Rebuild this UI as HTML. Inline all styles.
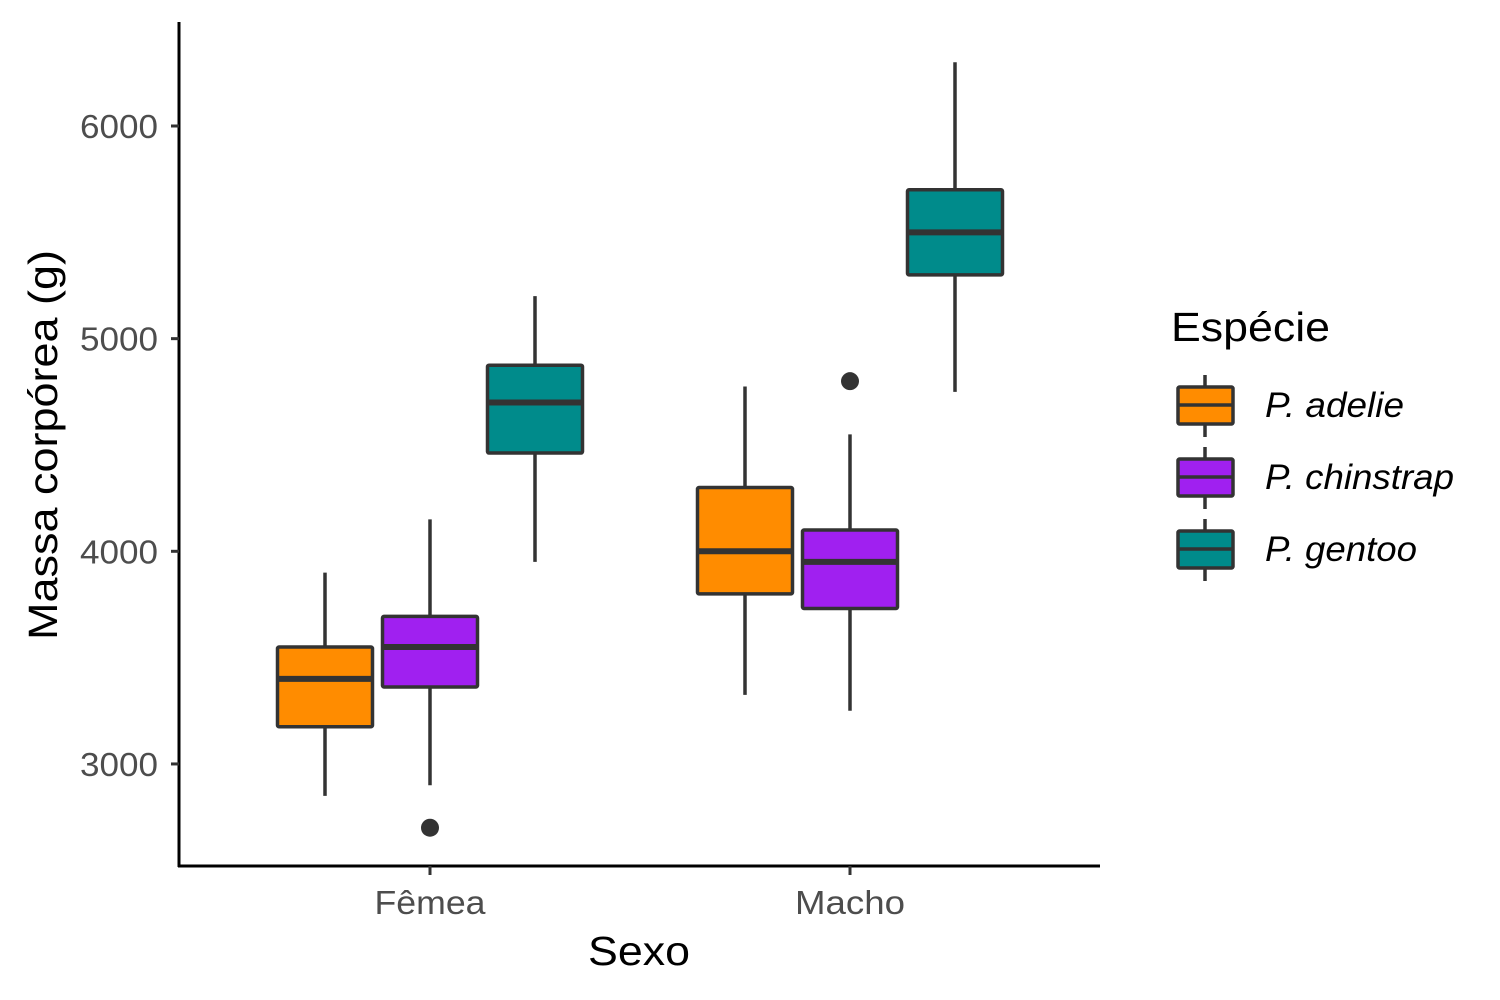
<!DOCTYPE html>
<html><head><meta charset="utf-8">
<style>
html,body{margin:0;padding:0;background:#fff;}
svg{display:block;font-family:"Liberation Sans",Arial,sans-serif;}
</style></head>
<body>
<svg id="chart" width="1500" height="1000" viewBox="0 0 1500 1000">
  <g id="marks"></g>
  <line x1="179" y1="22" x2="179" y2="867" stroke="#000" stroke-width="3"/>
  <line x1="178" y1="866" x2="1100" y2="866" stroke="#000" stroke-width="3"/>
  <g id="yticks"></g>
  <g id="xticks"></g>
  <text x="639" y="965" font-size="41" text-anchor="middle" fill="#000" textLength="102" lengthAdjust="spacingAndGlyphs">Sexo</text>
  <text transform="translate(57,445) rotate(-90)" font-size="41" text-anchor="middle" fill="#000" textLength="390" lengthAdjust="spacingAndGlyphs">Massa corpórea (g)</text>
  <g>
    <text x="1171" y="341" font-size="41" fill="#000" textLength="159" lengthAdjust="spacingAndGlyphs">Espécie</text>
    <g id="legend-items"></g>
  </g>
</svg>
<script>
const groups = ["Fêmea", "Macho"];
const species = ["P. adelie", "P. chinstrap", "P. gentoo"];
const colors = ["#FF8C00", "#A020F0", "#008B8B"];
// per species: [Fêmea, Macho]
const lowWhisker = [[2850, 3325], [2900, 3250], [3950, 4750]];
const q1 = [[3175, 3800], [3362, 3731], [4462, 5300]];
const median = [[3400, 4000], [3550, 3950], [4700, 5500]];
const q3 = [[3550, 4300], [3694, 4100], [4875, 5700]];
const highWhisker = [[3900, 4775], [4150, 4550], [5200, 6300]];
const outlierGroup = [0, 1];
const outlierSpecies = [1, 1];
const outlierValue = [2700, 4800];
const yTicks = [3000, 4000, 5000, 6000];

const NS = "http://www.w3.org/2000/svg";
function y(v){ return 126 + (6000 - v) * 0.21265; }
function xGroup(i){ return 430 + i * 420; }
function xBox(g, s){ return xGroup(g) + (s - 1) * 105; }
const boxW = 95;
function el(tag, attrs, parent){
  const e = document.createElementNS(NS, tag);
  for (const k in attrs) e.setAttribute(k, attrs[k]);
  parent.appendChild(e);
  return e;
}
const marks = document.getElementById("marks");
for (let g = 0; g < groups.length; g++) {
  for (let s = 0; s < species.length; s++) {
    const cx = xBox(g, s);
    const gr = el("g", {}, marks);
    
    
    el("line", {x1: cx, x2: cx, y1: y(highWhisker[s][g]), y2: y(lowWhisker[s][g]), stroke: "#333", "stroke-width": 3.5}, gr);
    el("rect", {x: cx - boxW/2, y: y(q3[s][g]), width: boxW, height: y(q1[s][g]) - y(q3[s][g]), fill: colors[s], stroke: "#333", "stroke-width": 3.5, rx: 1.5}, gr);
    el("line", {x1: cx - boxW/2, x2: cx + boxW/2, y1: y(median[s][g]), y2: y(median[s][g]), stroke: "#333", "stroke-width": 6}, gr);
  }
}
for (let i = 0; i < outlierValue.length; i++) {
  const c = el("circle", {cx: xBox(outlierGroup[i], outlierSpecies[i]), cy: y(outlierValue[i]), r: 9, fill: "#333"}, marks);
  
  
}
const yt = document.getElementById("yticks");
yTicks.forEach(v => {
  el("line", {x1: 171, x2: 179, y1: y(v), y2: y(v), stroke: "#333", "stroke-width": 3}, yt);
  const t = el("text", {x: 158, y: y(v) + 12, "font-size": 33, "text-anchor": "end", fill: "#4d4d4d", textLength: 78, lengthAdjust: "spacingAndGlyphs"}, yt);
  t.textContent = v;
  
  
});
const xt = document.getElementById("xticks");
const xLabelLen = [111, 110];
groups.forEach((gname, i) => {
  el("line", {x1: xGroup(i), x2: xGroup(i), y1: 866, y2: 875, stroke: "#333", "stroke-width": 3}, xt);
  const t = el("text", {x: xGroup(i), y: 914, "font-size": 33, "text-anchor": "middle", fill: "#4d4d4d", textLength: xLabelLen[i], lengthAdjust: "spacingAndGlyphs"}, xt);
  t.textContent = gname;
  
  
});
const li = document.getElementById("legend-items");
const legLen = [139, 189, 152];
species.forEach((sp, i) => {
  const cy = 405 + i * 72;
  const g = el("g", {}, li);
  
  
  el("line", {x1: 1205, x2: 1205, y1: cy - 30, y2: cy + 32, stroke: "#333", "stroke-width": 3.5}, g);
  el("rect", {x: 1178, y: cy - 18, width: 55, height: 37, fill: colors[i], stroke: "#333", "stroke-width": 3.5, rx: 1.5}, g);
  el("line", {x1: 1178, x2: 1233, y1: cy, y2: cy, stroke: "#333", "stroke-width": 3.5}, g);
  const t = el("text", {x: 1265, y: cy + 12, "font-size": 35, "font-style": "italic", fill: "#000", textLength: legLen[i], lengthAdjust: "spacingAndGlyphs"}, g);
  t.textContent = sp;
});
</script>
</body></html>
